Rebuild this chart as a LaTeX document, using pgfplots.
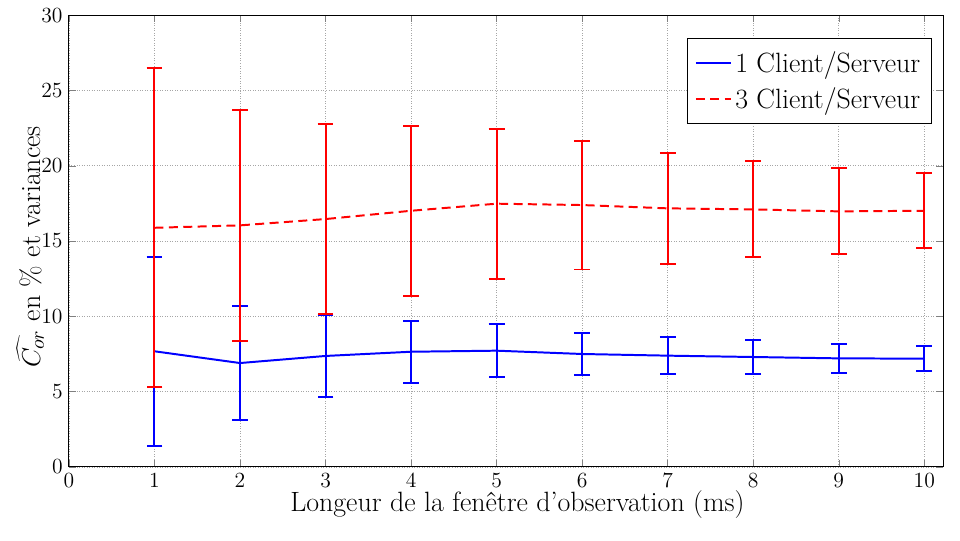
\documentclass[border=0pt]{standalone}
\usepackage{fontspec}
\usepackage{pgfplots}
\pgfplotsset{compat=1.18}
\begin{document}
\begin{tikzpicture}
\useasboundingbox (-38.3pt,-41.1pt) rectangle (495pt,259.4pt);
\begin{axis}[
  at={(0,0)}, anchor=south west,
  scale only axis, width=485.6pt, height=251pt,
  xmin=0, xmax=10.22, ymin=0, ymax=30,
  xtick={0,1,...,10}, ytick={0,5,...,30},
  tick align=inside, tick pos=both,
  major tick length=4pt,
  tick label style={font=\fontsize{11.5}{14}\selectfont},
  grid=major, grid style={densely dotted, gray!70, line width=0.4pt},
  axis line style={line width=0.6pt},
  xlabel={Longeur de la fenêtre d'observation (ms)},
  ylabel={$\widehat{C_{or}}$ en \% et variances},
  label style={font=\fontsize{15.5}{19}\selectfont},
  xlabel style={at={(axis description cs:0.513,-0.0996)}, anchor=base},
  ylabel style={at={(axis description cs:-0.033,0.487)}, anchor=base},
  legend style={font=\fontsize{15.5}{19}\selectfont, at={(0.987,0.949)}, anchor=north east, draw=black, line width=0.6pt, row sep=3pt, inner xsep=4pt, inner ysep=5pt},
  legend cell align=left,
  legend image code/.code={\draw[mark repeat=2,mark phase=2,#1] plot coordinates {(0cm,0cm) (0.34cm,0cm) (0.68cm,0cm)};},
]
\addplot[blue, line width=1.1pt, error bars/.cd, y dir=both, y explicit,
  error bar style={solid, line width=1.1pt},
  error mark options={rotate=90, mark size=4.4pt, line width=1.1pt, solid}]
  table[x=x, y=y, y error=e] {
x y e
1 7.68 6.26
2 6.90 3.80
3 7.37 2.73
4 7.65 2.05
5 7.72 1.75
6 7.50 1.42
7 7.39 1.24
8 7.30 1.10
9 7.21 0.96
10 7.19 0.85
};
\addlegendentry{1 Client/Serveur}
\addplot[red, line width=1.1pt, dash pattern=on 5pt off 3pt, error bars/.cd, y dir=both, y explicit,
  error bar style={solid, line width=1.1pt},
  error mark options={rotate=90, mark size=4.4pt, line width=1.1pt, solid}]
  table[x=x, y=y, y error=e] {
x y e
1 15.88 10.58
2 16.04 7.68
3 16.46 6.31
4 17.01 5.65
5 17.48 4.97
6 17.39 4.28
7 17.17 3.70
8 17.10 3.19
9 16.97 2.85
10 17.01 2.49
};
\addlegendentry{3 Client/Serveur}
\end{axis}
\end{tikzpicture}
\end{document}
